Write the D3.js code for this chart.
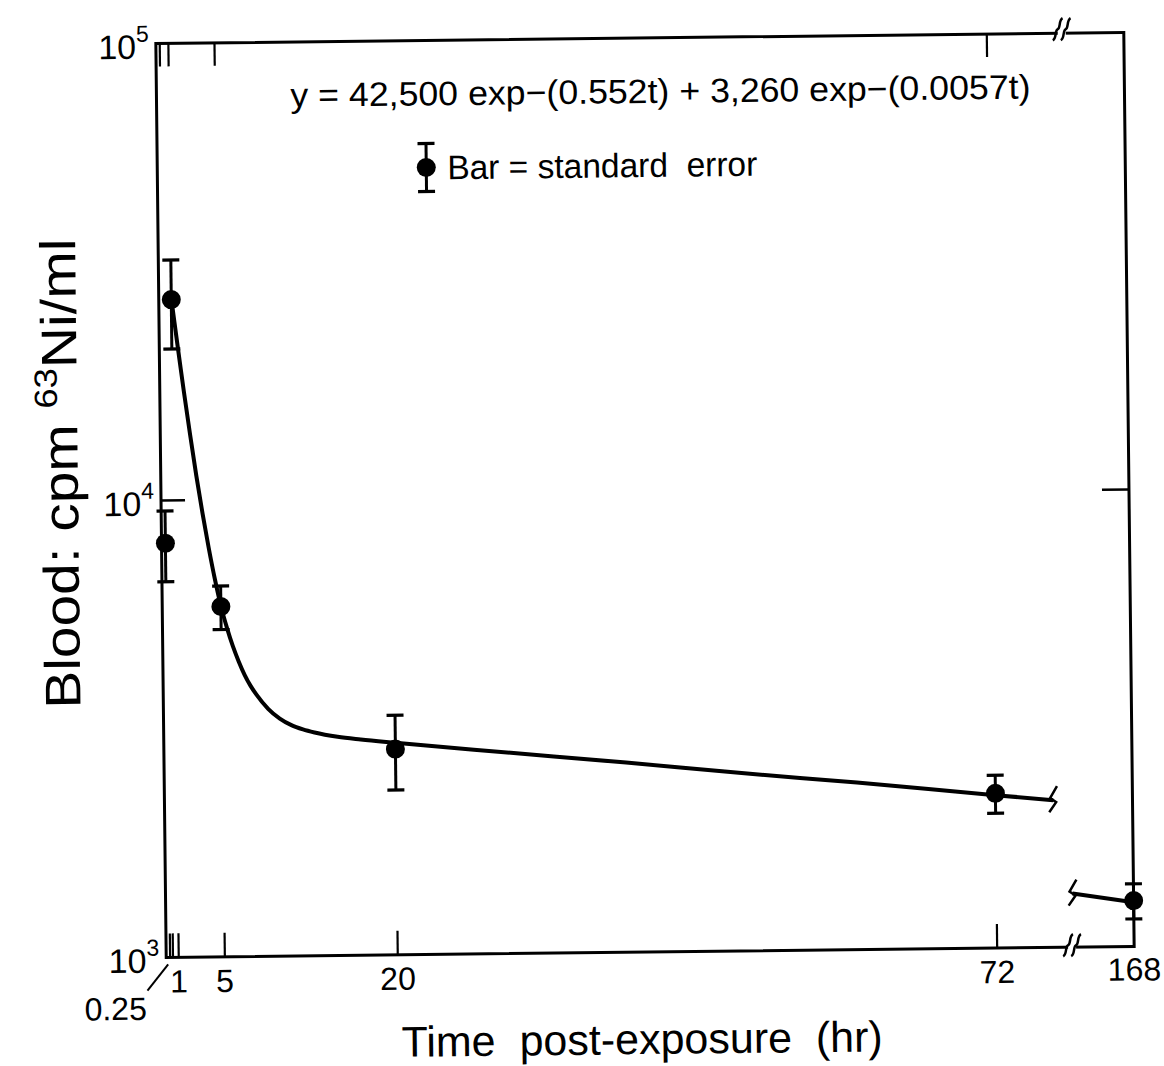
<!DOCTYPE html>
<html>
<head>
<meta charset="utf-8">
<script src="https://cdn.jsdelivr.net/npm/d3@7"></script>
<style>
  body { margin: 0; background: #fff; }
  svg text { font-family: 'Liberation Sans', Arial, sans-serif; fill: #000; white-space: pre; }
</style>
</head>
<body>
<svg id="viz"></svg>
<script>
const width = 1164
const height = 1066

// hours post-exposure, mean blood cpm/ml, standard error
const times = [0.25, 1, 5, 20, 72, 168]
const means = [8060, 27500, 5840, 2820, 2180, 1260]
const errors = [1420, 6060, 640, 525, 208, 111]

// fitted curve
const fitTimes = [1, 1.25, 1.5, 1.75, 2, 2.5, 3, 3.5, 4, 4.5, 5, 5.5, 6, 6.5, 7, 7.5, 8, 9, 10, 11, 12, 13, 15, 17, 20, 30, 40, 50, 60, 72, 77]
const fitValues = [27700, 24550, 21800, 19400, 17300, 13900, 11300, 9350, 7860, 6720, 5860, 5250, 4780, 4420, 4130, 3910, 3740, 3480, 3310, 3200, 3130, 3080, 3010, 2965, 2910, 2750, 2600, 2450, 2320, 2160, 2100]
// short piece of the curve after the axis break
const tailTimes = [160, 168]
const tailValues = [1310, 1250]

const xTicksBottom = [0.25, 0.5, 1, 5, 20, 72]
const xTicksTop = [0.25, 1, 5, 72]
const xLabels = [1, 5, 20, 72]
const yTicks = [1e3, 1e4, 1e5]
const yExp = ['3', '4', '5']

const frame = { left: 161, right: 1129, top: 38, bottom: 952 }

const svg = d3.select('#viz').attr('width', width).attr('height', height)

// the scanned page is a bit tilted
const g = svg.append('g').attr('transform', 'rotate(-0.65, 645, 495)')

const x = d3.scaleLinear().domain([0, 72]).range([162, 992])
const xTail = d3.scaleLinear().domain([160, 168]).range([1068, frame.right])
const y = d3.scaleLog().domain([1e3, 1e5]).range([frame.bottom, frame.top])
const xAt = (t) => (t > 100 ? xTail(t) : x(t))
const xBreak = x(78.5)

// frame
g.append('path')
  .attr('d', `M${frame.left},${frame.top}H${frame.right}V${frame.bottom}H${frame.left}Z`)
  .attr('fill', 'none')
  .attr('stroke', '#000')
  .attr('stroke-width', 3)

// ticks
g.append('g')
  .selectAll('line')
  .data(xTicksBottom)
  .join('line')
  .attr('x1', (d) => x(d))
  .attr('x2', (d) => x(d))
  .attr('y1', frame.bottom)
  .attr('y2', frame.bottom - 24)
  .attr('stroke', '#000')
  .attr('stroke-width', 2.2)

g.append('g')
  .selectAll('line')
  .data(xTicksTop)
  .join('line')
  .attr('x1', (d) => x(d))
  .attr('x2', (d) => x(d))
  .attr('y1', frame.top)
  .attr('y2', frame.top + 23)
  .attr('stroke', '#000')
  .attr('stroke-width', 2.2)

g.append('line')
  .attr('x1', frame.left).attr('x2', frame.left + 24)
  .attr('y1', y(1e4)).attr('y2', y(1e4))
  .attr('stroke', '#000').attr('stroke-width', 2.5)
g.append('line')
  .attr('x1', frame.right - 27).attr('x2', frame.right)
  .attr('y1', y(1e4)).attr('y2', y(1e4))
  .attr('stroke', '#000').attr('stroke-width', 2.5)

// axis breaks on top and bottom
const sPath = 'M -5,11 C -1,9 -3,1 0,0 C 3,-1 1,-9 5,-11'
;[frame.top - 4, frame.bottom - 2].forEach((yy) => {
  g.append('rect')
    .attr('x', xBreak - 4).attr('y', yy - 3)
    .attr('width', 8).attr('height', 10)
    .attr('fill', '#fff')
  ;[-4, 4].forEach((dx) => {
    g.append('path')
      .attr('d', sPath)
      .attr('transform', `translate(${xBreak + dx}, ${yy})`)
      .attr('fill', 'none')
      .attr('stroke', '#000')
      .attr('stroke-width', 2.5)
  })
})

// y labels
const yLab = g.append('g')
  .selectAll('text')
  .data(yTicks)
  .join('text')
  .attr('x', frame.left - 7)
  .attr('y', (d) => y(d) + 15)
  .attr('text-anchor', 'end')
yLab.append('tspan').attr('font-size', 34).text('10')
yLab.append('tspan').attr('font-size', 23).attr('dy', -17).text((d, i) => yExp[i])

// x labels
g.append('g')
  .selectAll('text')
  .data(xLabels)
  .join('text')
  .attr('x', (d) => x(d))
  .attr('y', frame.bottom + 35)
  .attr('text-anchor', 'middle')
  .attr('font-size', 32)
  .text((d) => d)

g.append('text')
  .attr('x', xTail(168))
  .attr('y', frame.bottom + 34)
  .attr('text-anchor', 'middle')
  .attr('font-size', 32)
  .text('168')

g.append('line')
  .attr('x1', x(0.25) - 2).attr('y1', frame.bottom + 7)
  .attr('x2', x(0.25) - 23).attr('y2', frame.bottom + 33)
  .attr('stroke', '#000').attr('stroke-width', 2)
g.append('text')
  .attr('x', x(0.25) - 55)
  .attr('y', frame.bottom + 62)
  .attr('text-anchor', 'middle')
  .attr('font-size', 32)
  .text('0.25')

// fitted curve
const line = d3.line()
  .x((d) => xAt(d[0]))
  .y((d) => y(d[1]))
  .curve(d3.curveMonotoneX)

g.append('path')
  .datum(fitTimes.map((t, i) => [t, fitValues[i]]))
  .attr('d', line)
  .attr('fill', 'none')
  .attr('stroke', '#000')
  .attr('stroke-width', 4)

g.append('path')
  .datum(tailTimes.map((t, i) => [t, tailValues[i]]))
  .attr('d', line)
  .attr('fill', 'none')
  .attr('stroke', '#000')
  .attr('stroke-width', 4)

// break marks on the curve
const zPath = 'M 4,-14 L -3,-2 L 3,2 L -4,12'
;[
  [xAt(fitTimes[fitTimes.length - 1]), y(fitValues[fitValues.length - 1])],
  [xAt(tailTimes[0]), y(tailValues[0])],
].forEach((p) => {
  g.append('path')
    .attr('d', zPath)
    .attr('transform', `translate(${p[0]}, ${p[1]})`)
    .attr('fill', 'none')
    .attr('stroke', '#000')
    .attr('stroke-width', 2.5)
})

// points with standard error bars
const pts = g.append('g')
  .selectAll('g')
  .data(times.map((t, i) => ({ t, m: means[i], e: errors[i] })))
  .join('g')

pts.append('line')
  .attr('x1', (d) => xAt(d.t)).attr('x2', (d) => xAt(d.t))
  .attr('y1', (d) => y(d.m + d.e)).attr('y2', (d) => y(d.m - d.e))
  .attr('stroke', '#000').attr('stroke-width', 3)
pts.append('line')
  .attr('x1', (d) => xAt(d.t) - 8.5).attr('x2', (d) => xAt(d.t) + 8.5)
  .attr('y1', (d) => y(d.m + d.e)).attr('y2', (d) => y(d.m + d.e))
  .attr('stroke', '#000').attr('stroke-width', 3.2)
pts.append('line')
  .attr('x1', (d) => xAt(d.t) - 8.5).attr('x2', (d) => xAt(d.t) + 8.5)
  .attr('y1', (d) => y(d.m - d.e)).attr('y2', (d) => y(d.m - d.e))
  .attr('stroke', '#000').attr('stroke-width', 3.2)
pts.append('circle')
  .attr('cx', (d) => xAt(d.t))
  .attr('cy', (d) => y(d.m))
  .attr('r', 9.5)
  .attr('fill', '#000')

// equation + legend
g.append('text')
  .attr('x', 295).attr('y', 103)
  .attr('font-size', 34)
  .attr('textLength', 740)
  .attr('lengthAdjust', 'spacingAndGlyphs')
  .text('y = 42,500 exp\u2212(0.552t) + 3,260 exp\u2212(0.0057t)')

const leg = g.append('g').attr('transform', 'translate(430, 165)')
leg.append('line').attr('y1', -24).attr('y2', 24).attr('stroke', '#000').attr('stroke-width', 3)
leg.append('line').attr('x1', -8.5).attr('x2', 8.5).attr('y1', -24).attr('y2', -24).attr('stroke', '#000').attr('stroke-width', 3.2)
leg.append('line').attr('x1', -8.5).attr('x2', 8.5).attr('y1', 24).attr('y2', 24).attr('stroke', '#000').attr('stroke-width', 3.2)
leg.append('circle').attr('r', 9.5).attr('fill', '#000')

g.append('text')
  .attr('x', 451).attr('y', 177)
  .attr('font-size', 34)
  .attr('textLength', 310)
  .attr('lengthAdjust', 'spacingAndGlyphs')
  .text('Bar = standard  error')

// axis titles
const yTitle = g.append('text')
  .attr('transform', 'translate(78, 467) rotate(-90)')
  .attr('text-anchor', 'middle')
  .attr('font-size', 50)
  .attr('textLength', 470)
  .attr('lengthAdjust', 'spacingAndGlyphs')
yTitle.append('tspan').text('Blood: cpm ')
yTitle.append('tspan').attr('font-size', 32).attr('dy', -20).text('63')
yTitle.append('tspan').attr('dy', 20).text('Ni/ml')

g.append('text')
  .attr('x', 636).attr('y', 1054)
  .attr('text-anchor', 'middle')
  .attr('font-size', 43)
  .text('Time  post-exposure  (hr)')
</script>
</body>
</html>
